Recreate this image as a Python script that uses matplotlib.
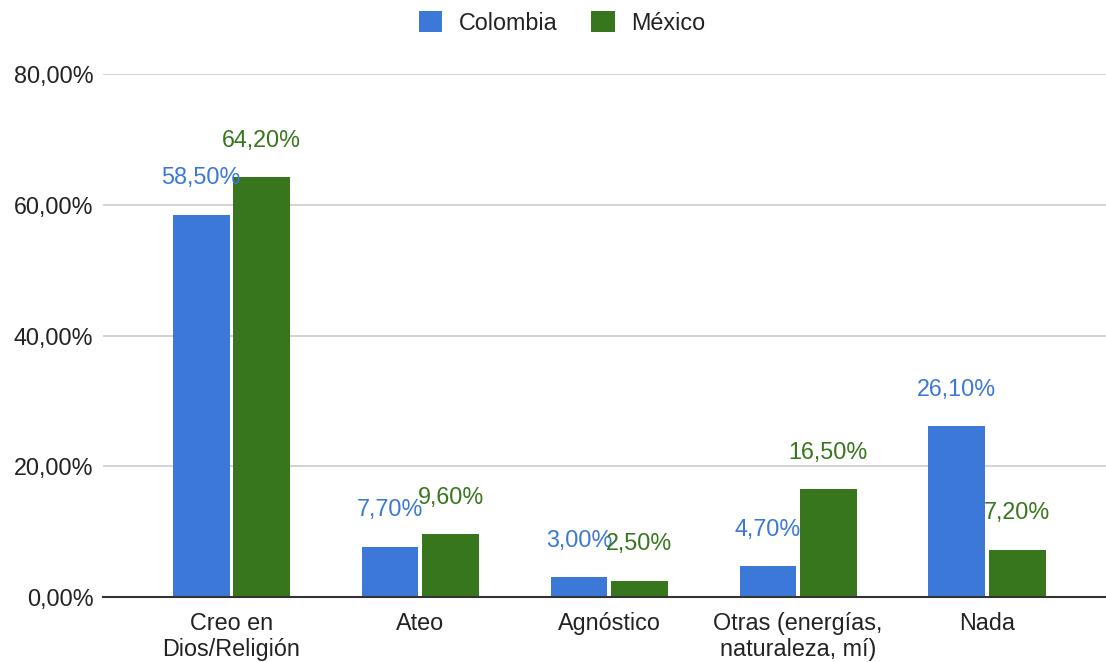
import matplotlib
matplotlib.use("Agg")
import matplotlib.pyplot as plt
import numpy as np

categories = ["Creo en\nDios/Religión", "Ateo", "Agnóstico", "Otras (energías,\nnaturaleza, mí)", "Nada"]
colombia = [58.5, 7.7, 3.0, 4.7, 26.1]
mexico = [64.2, 9.6, 2.5, 16.5, 7.2]
series_names = ["Colombia", "México"]
yticks = [0, 20, 40, 60, 80]

c_col = "#3c78d8"
c_mex = "#38761d"
FS = 16.8

plt.rcParams['font.family'] = ['Liberation Sans', 'DejaVu Sans']

fig = plt.figure(figsize=(11.06, 6.62), dpi=100)
ax = fig.add_axes([103/1106, 1 - 597/662, 1 - 103/1106, (597 - 74)/662])

x = np.arange(len(categories))
w = 0.30
off = 0.16
b1 = ax.bar(x - off, colombia, w, color=c_col, label=series_names[0], zorder=3)
b2 = ax.bar(x + off, mexico, w, color=c_mex, label=series_names[1], zorder=3)

def fmt(v):
    return f"{v:.2f}".replace(".", ",") + "%"

for xi, v in zip(x - off, colombia):
    ax.annotate(fmt(v), (xi, v), xytext=(0, 37), textcoords="offset pixels",
                ha="center", va="center", color=c_col, fontsize=FS)
for xi, v in zip(x + off, mexico):
    ax.annotate(fmt(v), (xi, v), xytext=(0, 37), textcoords="offset pixels",
                ha="center", va="center", color=c_mex, fontsize=FS)

ax.set_ylim(0, 80)
ax.set_xlim(-0.68, 4.63)
ax.set_yticks(yticks)
ax.set_yticklabels([fmt(t) for t in yticks], fontsize=FS, color="#222222")
ax.set_xticks(x)
ax.set_xticklabels(categories, fontsize=FS, color="#222222", linespacing=1.2)
ax.tick_params(axis="both", length=0)
ax.tick_params(axis="y", pad=7)
ax.tick_params(axis="x", pad=10.5)
ax.yaxis.grid(True, color="#cccccc", linewidth=1.2, zorder=0)
for s in ["top", "right", "left"]:
    ax.spines[s].set_visible(False)
ax.spines["bottom"].set_color("#333333")
ax.spines["bottom"].set_linewidth(1.5)
ax.spines["bottom"].set_zorder(4)

leg = fig.legend(handles=[b1, b2], labels=series_names, loc="center",
                 bbox_to_anchor=(562/1106, 1 - 23/662), ncol=2, frameon=False,
                 fontsize=FS, handlelength=1.0, handleheight=0.95, columnspacing=1.46,
                 handletextpad=0.69, borderpad=0.2)
for t in leg.get_texts():
    t.set_color("#222222")

fig.savefig("out.png", dpi=100)
